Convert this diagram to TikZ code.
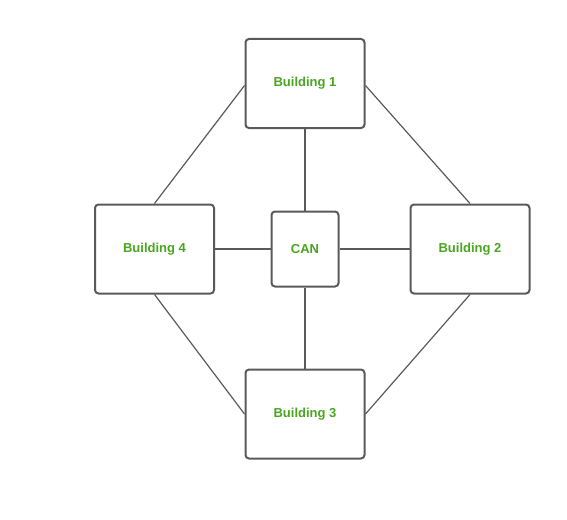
\documentclass[tikz,border=0pt]{standalone}
\usepackage{fontspec}
\setmainfont{Liberation Sans}
\definecolor{edgegray}{HTML}{5A5A5A}
\definecolor{txtgreen}{HTML}{4AA522}
\tikzset{
  bldg/.style={draw=edgegray, line width=2pt, rounded corners=3.5pt, fill=white,
    minimum width=119pt, minimum height=89pt, inner sep=0pt,
    font=\fontsize{13pt}{15pt}\selectfont\bfseries, text=txtgreen},
  canbox/.style={bldg, minimum width=67pt, minimum height=75pt},
  link/.style={draw=edgegray, line width=1.2pt}
}
\begin{document}
\begin{tikzpicture}[x=1pt,y=-1pt]
\useasboundingbox (0,0) rectangle (567,519);
\node[bldg] (b1) at (305,83.5) {Building 1};
\node[bldg] (b4) at (154.5,249) {Building 4};
\node[bldg] (b2) at (470,249) {Building 2};
\node[bldg] (b3) at (305,414) {Building 3};
\node[canbox] (can) at (305,249) {CAN};
\begin{scope}[on background layer/.try]
\end{scope}
\draw[link] (b1.west) ++(0,2) coordinate (b1w) -- (b4.north);
\draw[link] (b1.east) ++(0,2) coordinate (b1e) -- (b2.north);
\draw[link] (b4.south) -- (b3.west);
\draw[link] (b2.south) -- (b3.east);
\draw[link] (b1.south) -- (can.north);
\draw[link] (can.south) -- (b3.north);
\draw[link] (can.west) -- (b4.east);
\draw[link] (can.east) -- (b2.west);
\end{tikzpicture}
\end{document}
